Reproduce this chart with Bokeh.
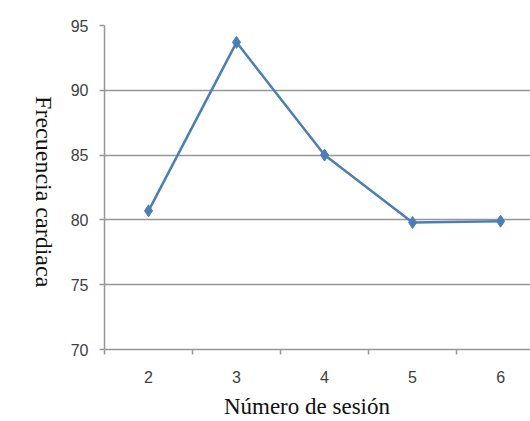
import math
from bokeh.plotting import figure
from bokeh.models import Range1d, FixedTicker, LinearAxis
from bokeh.embed import file_html
from bokeh.resources import INLINE

sessions = [2, 3, 4, 5, 6]
heart_rate = [80.7, 93.7, 85.0, 79.8, 79.9]
y_ticks = [70, 75, 80, 85, 90, 95]
x_title = "Número de sesión"
y_title = "Frecuencia cardiaca"

p = figure(width=530, height=421, output_backend="svg", toolbar_location=None,
           x_range=Range1d(1.5, 6.34), y_range=Range1d(70, 95))
p.min_border_left = 104
p.min_border_top = 25
p.min_border_bottom = 71
p.min_border_right = 0
p.outline_line_color = None
p.background_fill_color = "white"

line_color = "#4a7ebb"
p.line(sessions, heart_rate, line_color=line_color, line_width=2.5)
p.scatter(sessions, heart_rate, marker="diamond", size=12, fill_color=line_color,
          line_color=line_color)

grey = "#969696"
p.xgrid.grid_line_color = None
p.ygrid.grid_line_color = grey
p.ygrid.grid_line_width = 1.5
p.ygrid.ticker = FixedTicker(ticks=y_ticks)

p.xaxis.ticker = FixedTicker(ticks=sessions, minor_ticks=[s - 0.5 for s in sessions])
p.xaxis.major_tick_out = 0
p.xaxis.major_tick_in = 0
p.xaxis.minor_tick_out = 5
p.xaxis.minor_tick_in = 0
p.xaxis.minor_tick_line_color = grey
p.xaxis.minor_tick_line_width = 1.5
p.xaxis.axis_line_color = grey
p.xaxis.axis_line_width = 1.5
p.xaxis.major_label_standoff = 16

p.yaxis.ticker = FixedTicker(ticks=y_ticks)
p.yaxis.major_tick_out = 5
p.yaxis.major_tick_in = 0
p.yaxis.minor_tick_line_color = None
p.yaxis.major_tick_line_color = grey
p.yaxis.major_tick_line_width = 1.5
p.yaxis.axis_line_color = grey
p.yaxis.axis_line_width = 1.5
p.yaxis.major_label_standoff = 11

for ax in (p.xaxis, p.yaxis):
    ax.major_label_text_font = "Liberation Sans"
    ax.major_label_text_font_size = "16px"
    ax.major_label_text_color = "#404040"

# axis titles drawn as single-tick axes so they can be placed and rotated freely
y_title_axis = LinearAxis(ticker=FixedTicker(ticks=[74.8]),
                          major_label_overrides={74.8: y_title},
                          major_label_orientation=-math.pi / 2,
                          major_label_standoff=18)
y_title_axis.major_label_text_font_size = "24px"
x_title_axis = LinearAxis(ticker=FixedTicker(ticks=[3.8]),
                          major_label_overrides={3.8: x_title},
                          major_label_standoff=2)
x_title_axis.major_label_text_font_size = "23px"
for ax in (y_title_axis, x_title_axis):
    ax.axis_line_color = None
    ax.major_tick_line_color = None
    ax.minor_tick_line_color = None
    ax.major_label_text_font = "Liberation Serif"
    ax.major_label_text_color = "#111111"
p.add_layout(y_title_axis, "left")
p.add_layout(x_title_axis, "below")

open("out.html", "w").write(file_html(p, INLINE))
